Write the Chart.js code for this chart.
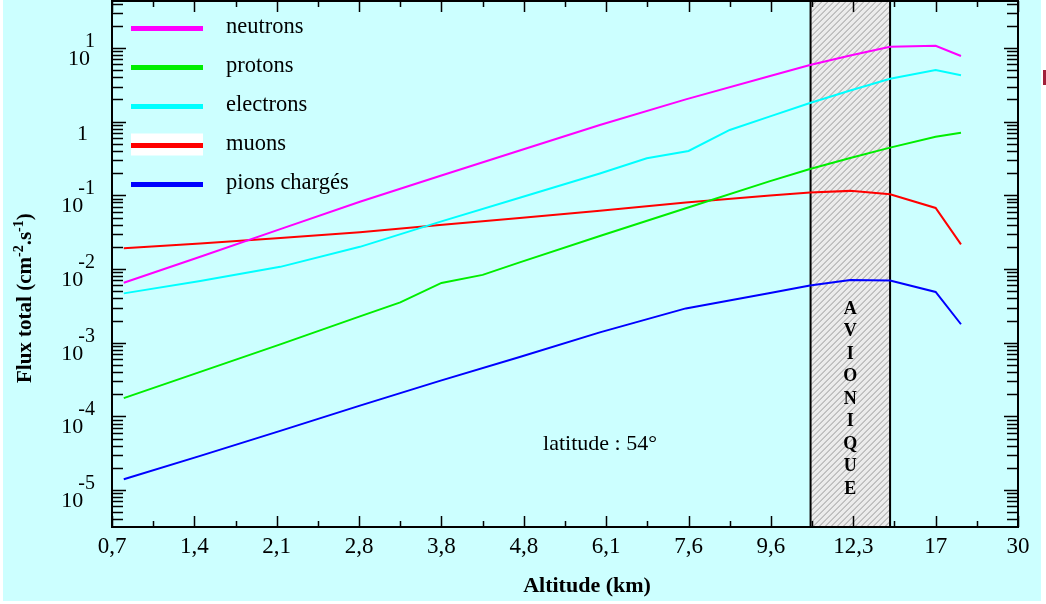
<!DOCTYPE html>
<html>
<head>
<meta charset="utf-8">
<script src="https://cdn.jsdelivr.net/npm/chart.js@4/dist/chart.umd.min.js"></script>
<style>
  html, body { margin: 0; padding: 0; background: #ffffff; }
  canvas { display: block; }
</style>
</head>
<body>
<canvas id="c" width="1046" height="604"></canvas>
<script>
// Altitude axis: labelled ticks (km), equally spaced along the axis
const altitudeTicks = [0.7, 1.4, 2.1, 2.8, 3.8, 4.8, 6.1, 7.6, 9.6, 12.3, 17, 30];
const altitudeTickLabels = ['0,7', '1,4', '2,1', '2,8', '3,8', '4,8', '6,1', '7,6', '9,6', '12,3', '17', '30'];

// Total flux (cm-2.s-1) versus altitude (km), latitude 54°
const neutronAltitude = [0.8, 1.45, 2.13, 2.81, 3.78, 4.75, 6.0, 7.55, 9.58, 10.88, 12.2, 14.4, 17, 21];
const neutronFlux     = [0.0065, 0.0147, 0.0348, 0.082, 0.183, 0.407, 0.90, 2.01, 4.17, 5.88, 7.91, 10.4, 10.7, 7.8];

const protonAltitude = [0.8, 1.45, 2.13, 2.81, 3.3, 3.8, 4.3, 4.75, 6.0, 7.55, 9.58, 10.88, 12.2, 14.4, 17, 21];
const protonFlux     = [1.77e-4, 4.02e-4, 9.5e-4, 2.28e-3, 3.52e-3, 6.48e-3, 8.32e-3, 0.0123, 0.0281, 0.0668, 0.156, 0.228, 0.322, 0.444, 0.626, 0.709];

const electronAltitude = [0.8, 1.45, 2.13, 2.81, 3.78, 4.75, 6.0, 6.84, 7.6, 8.6, 9.58, 10.88, 12.2, 14.4, 17, 21];
const electronFlux     = [0.00467, 0.0069, 0.0107, 0.020, 0.0436, 0.093, 0.198, 0.319, 0.400, 0.772, 1.18, 1.79, 2.65, 3.83, 5.03, 4.26];

const muonAltitude = [0.8, 1.45, 2.13, 2.81, 3.78, 4.75, 6.0, 7.55, 9.58, 10.88, 12.2, 14.4, 17, 21];
const muonFlux     = [0.0192, 0.0222, 0.0264, 0.0316, 0.0397, 0.0494, 0.0618, 0.080, 0.0997, 0.1095, 0.115, 0.1035, 0.0675, 0.0216];

const pionAltitude = [0.8, 1.45, 2.13, 2.81, 3.78, 4.75, 6.0, 7.55, 9.58, 10.88, 12.2, 14.4, 17, 21];
const pionFlux     = [1.40e-5, 2.91e-5, 6.36e-5, 1.40e-4, 3.03e-4, 6.41e-4, 1.38e-3, 2.92e-3, 4.74e-3, 5.99e-3, 7.11e-3, 7.0e-3, 4.89e-3, 1.78e-3];

// Avionics altitude band (km)
const avionicsBand = [10.9, 14.4];

// Map an altitude in km onto the axis, where labelled ticks are equally spaced
function kmToPos(km) {
  const t = altitudeTicks;
  for (let i = 0; i < t.length - 1; i++) {
    if (km <= t[i + 1] || i === t.length - 2) {
      return i + (km - t[i]) / (t[i + 1] - t[i]);
    }
  }
  return 0;
}

const series = [
  { label: 'neutrons',      alt: neutronAltitude,  flux: neutronFlux,  color: '#ff00ff' },
  { label: 'protons',       alt: protonAltitude,   flux: protonFlux,   color: '#00ee00' },
  { label: 'electrons',     alt: electronAltitude, flux: electronFlux, color: '#00ffff' },
  { label: 'muons',         alt: muonAltitude,     flux: muonFlux,     color: '#ff0000' },
  { label: 'pions chargés', alt: pionAltitude,     flux: pionFlux,     color: '#0000ff' }
];

const SERIF = '"Liberation Serif", "Times New Roman", serif';

const decorations = {
  id: 'decorations',
  beforeDraw(chart) {
    const ctx = chart.ctx;
    ctx.save();
    ctx.fillStyle = '#ffffff';
    ctx.fillRect(0, 0, chart.width, chart.height);
    ctx.fillStyle = '#ccffff';
    ctx.fillRect(3, 0, 1038, 601);
    // small mark at the right edge
    ctx.fillStyle = '#a0203a';
    ctx.fillRect(1043, 70, 3, 15);
    ctx.restore();
  },
  beforeDatasetsDraw(chart) {
    const { ctx, chartArea: a, scales: { x } } = chart;
    const x0 = x.getPixelForValue(kmToPos(avionicsBand[0]));
    const x1 = x.getPixelForValue(kmToPos(avionicsBand[1]));
    const h = a.bottom - a.top;
    ctx.save();
    ctx.beginPath();
    ctx.rect(x0, a.top, x1 - x0, h);
    ctx.clip();
    ctx.fillStyle = '#ececec';
    ctx.fillRect(x0, a.top, x1 - x0, h);
    ctx.strokeStyle = '#999999';
    ctx.lineWidth = 1;
    ctx.beginPath();
    for (let k = -700; k < 200; k += 6) {
      ctx.moveTo(x0 + k, a.bottom);
      ctx.lineTo(x0 + k + 700, a.bottom - 700);
    }
    ctx.stroke();
    ctx.restore();

    ctx.save();
    ctx.strokeStyle = '#000';
    ctx.lineWidth = 2;
    ctx.strokeRect(x0, a.top, x1 - x0, h);
    ctx.fillStyle = '#000';
    ctx.font = 'bold 18px ' + SERIF;
    ctx.textAlign = 'center';
    ctx.textBaseline = 'middle';
    const word = 'AVIONIQUE';
    const cx = (x0 + x1) / 2;
    for (let i = 0; i < word.length; i++) {
      ctx.fillText(word[i], cx, 309 + i * 22.5);
    }
    ctx.restore();
  },
  afterDatasetsDraw(chart) {
    const { ctx, chartArea: a, scales: { x, y } } = chart;
    ctx.save();

    // frame
    ctx.strokeStyle = '#000';
    ctx.lineWidth = 2;
    ctx.strokeRect(a.left, a.top, a.right - a.left, a.bottom - a.top);

    // x ticks (bottom and top, pointing inward)
    ctx.lineWidth = 1.5;
    ctx.beginPath();
    for (let i = 0; i < altitudeTicks.length; i++) {
      const px = Math.round(x.getPixelForValue(i)) + 0.5;
      ctx.moveTo(px, a.bottom); ctx.lineTo(px, a.bottom - 11);
      ctx.moveTo(px, a.top); ctx.lineTo(px, a.top + 11);
      if (i < altitudeTicks.length - 1) {
        const pm = Math.round(x.getPixelForValue(i + 0.5)) + 0.5;
        ctx.moveTo(pm, a.bottom); ctx.lineTo(pm, a.bottom - 6);
        ctx.moveTo(pm, a.top); ctx.lineTo(pm, a.top + 6);
      }
    }
    ctx.stroke();

    // y ticks (log scale, left and right, pointing inward)
    ctx.beginPath();
    for (let d = -6; d <= 1; d++) {
      for (let m = 1; m <= 9; m++) {
        const v = m * Math.pow(10, d);
        if (v < y.min || v > y.max) continue;
        const py = Math.round(y.getPixelForValue(v)) + 0.5;
        const len = m === 1 ? 14 : 11;
        ctx.moveTo(a.left, py); ctx.lineTo(a.left + len, py);
        ctx.moveTo(a.right, py); ctx.lineTo(a.right - len, py);
      }
    }
    ctx.stroke();

    // x tick labels
    ctx.fillStyle = '#000';
    ctx.font = '23px ' + SERIF;
    ctx.textAlign = 'center';
    ctx.textBaseline = 'alphabetic';
    altitudeTickLabels.forEach((lab, i) => {
      ctx.fillText(lab, x.getPixelForValue(i), 553);
    });

    // y tick labels: 10 with the exponent written above it
    for (let d = -5; d <= 1; d++) {
      const py = y.getPixelForValue(Math.pow(10, d));
      if (d === 0) {
        ctx.font = '22px ' + SERIF;
        ctx.textAlign = 'right';
        ctx.fillText('1', 88, py + 18);
        continue;
      }
      const ex = String(d);
      ctx.font = '20px ' + SERIF;
      ctx.textAlign = 'right';
      ctx.fillText(ex, 95, py - 1);
      const ew = ctx.measureText(ex).width;
      ctx.font = '22px ' + SERIF;
      ctx.fillText('10', 95 - ew + 5, py + 17);
    }

    // axis titles
    ctx.font = 'bold 22px ' + SERIF;
    ctx.textAlign = 'center';
    ctx.fillText('Altitude (km)', 587, 592);

    ctx.save();
    ctx.translate(31, 383);
    ctx.rotate(-Math.PI / 2);
    ctx.textAlign = 'left';
    const parts = [
      ['Flux total (cm', 21, 0],
      ['-2', 14, -8],
      ['.s', 21, 0],
      ['-1', 14, -8],
      [')', 21, 0]
    ];
    let cx = 0;
    for (const [t, size, dy] of parts) {
      ctx.font = 'bold ' + size + 'px ' + SERIF;
      ctx.fillText(t, cx, dy);
      cx += ctx.measureText(t).width;
    }
    ctx.restore();

    // annotation
    ctx.font = '22px ' + SERIF;
    ctx.textAlign = 'center';
    ctx.fillText('latitude : 54°', 600, 450);

    // legend
    ctx.textAlign = 'left';
    ctx.font = '22.5px ' + SERIF;
    chart.data.datasets.forEach((ds, i) => {
      const ly = 28.5 + i * 39;
      if (ds.label === 'muons') {
        ctx.fillStyle = '#ffffff';
        ctx.fillRect(131, ly - 12, 72, 22);
      }
      ctx.strokeStyle = ds.borderColor;
      ctx.lineWidth = 5;
      ctx.beginPath();
      ctx.moveTo(131, ly);
      ctx.lineTo(203, ly);
      ctx.stroke();
      ctx.fillStyle = '#000';
      ctx.fillText(ds.label, 226, ly + 4);
    });

    ctx.restore();
  }
};

new Chart(document.getElementById('c'), {
  type: 'line',
  data: {
    datasets: series.map(s => ({
      label: s.label,
      data: s.alt.map((km, i) => ({ x: kmToPos(km), y: s.flux[i] })),
      borderColor: s.color,
      borderWidth: 2,
      pointRadius: 0,
      tension: 0,
      fill: false
    }))
  },
  options: {
    responsive: false,
    animation: false,
    devicePixelRatio: 1,
    layout: { padding: { left: 112, right: 28, top: 1, bottom: 77 } },
    scales: {
      x: { type: 'linear', display: false, min: 0, max: altitudeTicks.length - 1 },
      y: { type: 'logarithmic', display: false, min: 3.15e-6, max: 43.45 }
    },
    plugins: { legend: { display: false }, tooltip: { enabled: false } }
  },
  plugins: [decorations]
});
</script>
</body>
</html>
